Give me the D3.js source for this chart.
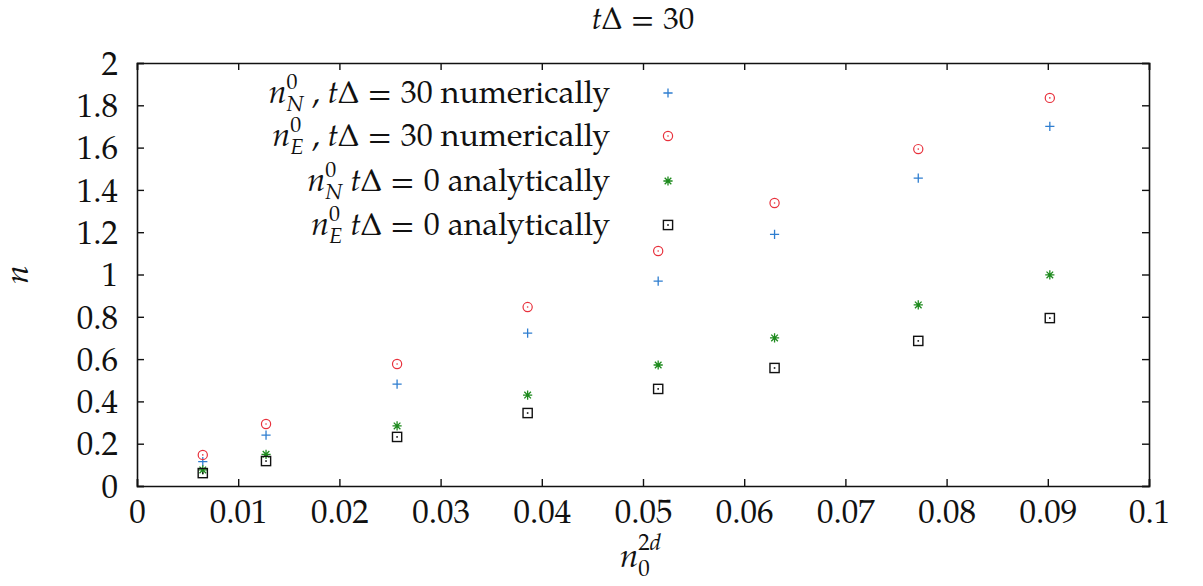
<!DOCTYPE html>
<html>
<head>
<meta charset="utf-8">
<script src="https://cdn.jsdelivr.net/npm/d3@7"></script>
<style>
  body { margin: 0; background: #fff; }
</style>
</head>
<body>
<svg id="chart"></svg>
<script>
var WIDTH = 1203;
var HEIGHT = 586;
var margin = {top: 63, right: 54, bottom: 100, left: 137};
var FONT = '"TeX Gyre Pagella", "Liberation Serif", serif';

// x positions (n_0^{2d}) shared by all series
var xVals = [0.0065, 0.01275, 0.0257, 0.0386, 0.0515, 0.0630, 0.0772, 0.0902];

var nN30 = [0.115, 0.241, 0.482, 0.723, 0.969, 1.19, 1.456, 1.70];
var nE30 = [0.147, 0.293, 0.577, 0.846, 1.111, 1.338, 1.593, 1.835];
var nN0  = [0.076, 0.150, 0.284, 0.430, 0.572, 0.700, 0.856, 0.998];
var nE0  = [0.061, 0.118, 0.232, 0.345, 0.459, 0.558, 0.686, 0.794];

var xTicks = [0, 0.01, 0.02, 0.03, 0.04, 0.05, 0.06, 0.07, 0.08, 0.09, 0.1];
var yTicks = [0, 0.2, 0.4, 0.6, 0.8, 1, 1.2, 1.4, 1.6, 1.8, 2];

// label pieces: [text, kind] kind: '' roman, 'i' italic, 'sup', 'sub', 'op' spaced operator
var series = [
  {name: 'nN30', values: nN30, color: '#2f7ed0', shape: 'plus',
   label: [['n', 'i'], ['0', 'sup'], ['N', 'sub'], [' , ', ''], ['t', 'i'], ['Δ', ''], ['=', 'op'], ['30 numerically', '']]},
  {name: 'nE30', values: nE30, color: '#e8313c', shape: 'circle',
   label: [['n', 'i'], ['0', 'sup'], ['E', 'sub'], [' , ', ''], ['t', 'i'], ['Δ', ''], ['=', 'op'], ['30 numerically', '']]},
  {name: 'nN0', values: nN0, color: '#1d8a1d', shape: 'star',
   label: [['n', 'i'], ['0', 'sup'], ['N', 'sub'], [' ', ''], ['t', 'i'], ['Δ', ''], ['=', 'op'], ['0 analytically', '']]},
  {name: 'nE0', values: nE0, color: '#111', shape: 'square',
   label: [['n', 'i'], ['0', 'sup'], ['E', 'sub'], [' ', ''], ['t', 'i'], ['Δ', ''], ['=', 'op'], ['0 analytically', '']]}
];

var svg = d3.select('#chart').attr('width', WIDTH).attr('height', HEIGHT);
var w = WIDTH - margin.left - margin.right;
var h = HEIGHT - margin.top - margin.bottom;
var g = svg.append('g').attr('transform', 'translate(' + margin.left + ',' + margin.top + ')');

var x = d3.scaleLinear().domain([0, 0.1]).range([0, w]);
var y = d3.scaleLinear().domain([0, 2]).range([h, 0]);

var fmt = function(d) { return d3.format('~g')(d); };

// axes with inward ticks, mirrored
var xAxis = g.append('g').attr('transform', 'translate(0,' + h + ')')
  .call(d3.axisBottom(x).tickValues(xTicks).tickSize(-7).tickPadding(13).tickFormat(fmt));
g.append('g')
  .call(d3.axisTop(x).tickValues(xTicks).tickSize(-7).tickFormat(''));
var yAxis = g.append('g')
  .call(d3.axisLeft(y).tickValues(yTicks).tickSize(-7).tickPadding(19).tickFormat(fmt));
g.append('g').attr('transform', 'translate(' + w + ',0)')
  .call(d3.axisRight(y).tickValues(yTicks).tickSize(-7).tickFormat(''));

g.selectAll('.domain').attr('stroke', '#111').attr('stroke-width', 1.6);
g.selectAll('.tick line').attr('stroke', '#111').attr('stroke-width', 1.4);
[xAxis, yAxis].forEach(function(a) {
  a.selectAll('.tick text').attr('fill', '#111')
    .style('font-family', FONT).style('font-size', '33px');
});
xAxis.selectAll('.tick text').attr('dy', '0.72em');
yAxis.selectAll('.tick text').attr('dy', '0.34em');

function drawMarker(sel, shape, color) {
  var r = 4.6;
  if (shape === 'plus') {
    sel.append('path').attr('d', 'M' + -r + ',0H' + r + 'M0,' + -r + 'V' + r)
      .attr('stroke', color).attr('stroke-width', 1.3).attr('fill', 'none');
  } else if (shape === 'circle') {
    sel.append('circle').attr('r', r).attr('stroke', color).attr('stroke-width', 1.2).attr('fill', 'none');
    sel.append('circle').attr('r', 0.8).attr('fill', color);
  } else if (shape === 'star') {
    var d = r * 0.72;
    sel.append('path').attr('d', 'M' + -r + ',0H' + r + 'M0,' + -r + 'V' + r +
        'M' + -d + ',' + -d + 'L' + d + ',' + d + 'M' + -d + ',' + d + 'L' + d + ',' + -d)
      .attr('stroke', color).attr('stroke-width', 1.3).attr('fill', 'none');
  } else if (shape === 'square') {
    sel.append('rect').attr('x', -r).attr('y', -r).attr('width', 2 * r).attr('height', 2 * r)
      .attr('stroke', color).attr('stroke-width', 1.4).attr('fill', 'none');
    sel.append('rect').attr('x', -0.8).attr('y', -0.8).attr('width', 1.6).attr('height', 1.6).attr('fill', color);
  }
}

// points
series.forEach(function(s) {
  g.selectAll('.pt-' + s.name)
    .data(s.values)
    .enter()
    .append('g')
    .attr('class', 'pt-' + s.name)
    .attr('transform', function(d, i) { return 'translate(' + x(xVals[i]) + ',' + y(d) + ')'; })
    .each(function() { drawMarker(d3.select(this), s.shape, s.color); });
});

// write pieces with sup/sub stacked; offsets relative to the baseline
function writeMath(t, pieces, subSize, opGap) {
  var off = 0, supW = 0, pendingDx = 0;
  pieces.forEach(function(p) {
    var ts = t.append('tspan').text(p[0]);
    var target = 0;
    var dx = pendingDx;
    pendingDx = 0;
    if (p[1] === 'sup') {
      target = -14;
      ts.style('font-size', subSize + 'px');
    } else if (p[1] === 'sub') {
      target = 8;
      ts.style('font-size', subSize + 'px').style('font-style', 'italic');
      dx -= supW;
    } else if (p[1] === 'i') {
      ts.style('font-style', 'italic');
    } else if (p[1] === 'op') {
      dx += opGap;
      pendingDx = opGap;
    }
    if (dx) ts.attr('dx', dx);
    if (target !== off) ts.attr('dy', target - off);
    off = target;
    if (p[1] === 'sup') supW = ts.node().getComputedTextLength();
  });
}

// legend
var legend = svg.append('g');
var legY = [93, 136, 181, 225];
series.forEach(function(s, i) {
  var t = legend.append('text')
    .attr('x', 610).attr('y', legY[i] + 10)
    .attr('text-anchor', 'end')
    .attr('fill', '#111')
    .style('font-family', FONT)
    .style('font-size', '32px');
  writeMath(t, s.label, 22, 9);
  var m = legend.append('g').attr('transform', 'translate(668,' + legY[i] + ')');
  drawMarker(m, s.shape, s.color);
});

// title
var title = svg.append('text').attr('x', 643).attr('y', 29).attr('text-anchor', 'middle')
  .attr('fill', '#111').style('font-family', FONT).style('font-size', '31px');
writeMath(title, [['t', 'i'], ['Δ', ''], ['=', 'op'], ['30', '']], 21, 9);

// y label
svg.append('text').attr('transform', 'translate(28,' + (margin.top + h / 2) + ') rotate(-90)')
  .attr('text-anchor', 'middle').attr('fill', '#111')
  .style('font-family', FONT).style('font-size', '33px').style('font-style', 'italic').text('n');

// x label
var xl = svg.append('text').attr('x', 620).attr('y', 567).attr('fill', '#111')
  .style('font-family', FONT).style('font-size', '33px');
xl.append('tspan').text('n').style('font-style', 'italic');
var s0 = xl.append('tspan').text('0').style('font-size', '23px').attr('dy', 9);
xl.append('tspan').text('2').style('font-size', '23px').attr('dx', -s0.node().getComputedTextLength()).attr('dy', -26);
xl.append('tspan').text('d').style('font-size', '23px').style('font-style', 'italic');
</script>
</body>
</html>
